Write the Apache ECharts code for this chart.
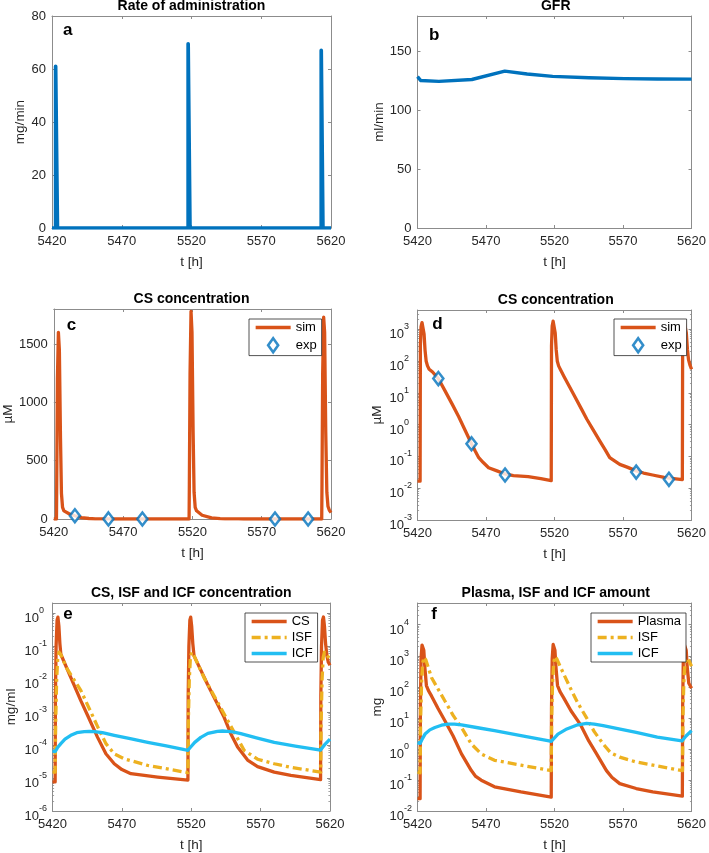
<!DOCTYPE html>
<html><head><meta charset="utf-8">
<script src="https://cdn.jsdelivr.net/npm/echarts@6/dist/echarts.min.js"></script>
<style>html,body{margin:0;padding:0;background:#fff}#c{width:709px;height:853px}</style>
</head><body><div id="c"></div>
<script>
// ---------- data ----------
const xTicks = [5420, 5470, 5520, 5570, 5620];

// (a) rate of administration, mg/min
const rateT = [5420, 5422.6, 5422.6, 5423.9, 5423.9, 5517.6, 5517.6, 5518.9, 5518.9, 5613, 5613, 5614.2, 5614.2, 5620];
const rateV = [0, 0, 61, 61, 0, 0, 69.5, 69.5, 0, 0, 67, 67, 0, 0];

// (b) GFR, ml/min
const gfrT = [5420, 5421, 5422.4, 5435.6, 5459.7, 5483.7, 5500, 5518.6, 5545, 5571, 5595, 5620];
const gfrV = [128.5, 127, 125.2, 124.5, 126.1, 133.2, 130.8, 128.7, 127.6, 126.8, 126.5, 126.4];

// (c,d) CS concentration, µM (simulation)
const simT = [5420, 5421.9, 5422.1, 5422.6, 5423.3, 5424.0, 5424.8, 5425.5, 5426.3, 5427.3, 5428.5, 5431, 5435.2, 5440, 5445.3, 5450, 5455, 5459.4, 5462, 5464.7, 5468, 5471.9, 5478, 5483.9, 5490, 5500.8, 5510, 5517.6,
  5517.8, 5518.3, 5519.0, 5519.7, 5520.5, 5521.2, 5522, 5523, 5524.2, 5527, 5533.8, 5540, 5543.5, 5548, 5553.1, 5557, 5560.3, 5563, 5567.6, 5573, 5579.6, 5585, 5591.6, 5600, 5607, 5613.3,
  5613.5, 5614, 5614.7, 5615.4, 5616.2, 5617, 5617.8, 5618.8, 5620];
const simV = [0.0166, 0.0166, 300, 1200, 1600, 1450, 700, 220, 100, 70, 55, 45, 28, 11.7, 4.4, 1.8, 0.63, 0.25, 0.15, 0.091, 0.064, 0.044, 0.035, 0.028, 0.025, 0.023, 0.020, 0.0172,
  300, 1250, 1780, 1600, 750, 230, 100, 70, 55, 32, 9.1, 2.9, 1.5, 0.71, 0.30, 0.16, 0.091, 0.076, 0.056, 0.046, 0.035, 0.030, 0.026, 0.022, 0.020, 0.0186,
  300, 1250, 1730, 1600, 750, 230, 110, 75, 55];
// experimental points, µM
const expT = [5435.2, 5459.4, 5483.9, 5579.6, 5603.5];
const expV = [28, 0.25, 0.026, 0.032, 0.019];

// (e) concentrations, mg/ml
const eCsT = [5420, 5421.9, 5422.1, 5422.6, 5423.3, 5423.9, 5424.6, 5425.3, 5426, 5433, 5440.4, 5446, 5452.5, 5458.5, 5464.5, 5470, 5476.5, 5495.8, 5517.6,
  5517.8, 5518.3, 5519, 5519.6, 5520.3, 5521.1, 5522, 5531.7, 5543.7, 5548.5, 5553.4, 5560.6, 5567.8, 5579.8, 5591.8, 5613.2,
  5613.4, 5613.9, 5614.6, 5615.3, 5616, 5616.8, 5617.8, 5618.8, 5620];
const eCsV = [7.6e-6, 7.6e-6, 3e-3, 0.1, 0.6, 0.75, 0.4, 0.12, 0.056, 0.0115, 2.2e-3, 6.8e-4, 1.7e-4, 5.4e-5, 2.7e-5, 1.8e-5, 1.35e-5, 1.07e-5, 8.6e-6,
  3e-3, 0.1, 0.6, 0.75, 0.4, 0.12, 0.05, 6.9e-3, 6.9e-4, 2.2e-4, 8.7e-5, 3.5e-5, 2.2e-5, 1.5e-5, 1.2e-5, 8.9e-6,
  3e-3, 0.1, 0.6, 0.75, 0.4, 0.12, 0.05, 0.032, 0.026];
const eIsfT = [5420, 5421.9, 5422.3, 5423, 5423.8, 5424.7, 5426, 5430, 5440.4, 5452.5, 5458.5, 5464.5, 5471.8, 5488.6, 5517.6,
  5517.9, 5518.6, 5519.4, 5520.3, 5521.6, 5529.2, 5543.7, 5558.1, 5567.8, 5579.8, 5591.8, 5613.3,
  5613.6, 5614.3, 5615.1, 5616, 5617.3, 5620];
const eIsfV = [1.5e-5, 1.5e-5, 5e-4, 0.01, 0.045, 0.065, 0.055, 0.022, 4.5e-3, 3.6e-4, 1.1e-4, 5.4e-5, 3.8e-5, 2.4e-5, 1.45e-5,
  5e-4, 0.01, 0.045, 0.065, 0.055, 0.011, 8.7e-4, 6.9e-5, 3.7e-5, 2.7e-5, 2.1e-5, 1.5e-5,
  5e-4, 0.01, 0.045, 0.065, 0.058, 0.04];
const eIcfT = [5420, 5421.9, 5423.5, 5426, 5429, 5433.2, 5437.5, 5442.9, 5446.5, 5450, 5456, 5464.5, 5476, 5488.6, 5502, 5515.1, 5517.6,
  5519.6, 5522.5, 5526.9, 5532, 5538.9, 5542.5, 5546, 5550, 5555.7, 5567, 5579.8, 5595, 5613.2, 5616, 5620];
const eIcfV = [6.6e-5, 6.3e-5, 8.2e-5, 1.1e-4, 1.5e-4, 1.96e-4, 2.35e-4, 2.55e-4, 2.6e-4, 2.55e-4, 2.35e-4, 1.95e-4, 1.55e-4, 1.2e-4, 9.4e-5, 7.2e-5, 6.9e-5,
  8.7e-5, 1.2e-4, 1.7e-4, 2.25e-4, 2.6e-4, 2.65e-4, 2.6e-4, 2.5e-4, 2.2e-4, 1.65e-4, 1.2e-4, 9.3e-5, 7.0e-5, 1.0e-4, 1.5e-4];

// (f) amounts, mg
const fPlT = [5420, 5421.9, 5422.1, 5422.6, 5423.3, 5423.9, 5424.6, 5425.4, 5426.5, 5428, 5430.3, 5435, 5440, 5446, 5452.1, 5459.3, 5462.5, 5466.5, 5476.2, 5495.5, 5517.6,
  5517.8, 5518.3, 5519, 5519.6, 5520.3, 5521.1, 5522.2, 5524, 5526.6, 5532, 5538.7, 5545, 5550.7, 5557.9, 5562, 5567.6, 5579.6, 5591.7, 5613.3,
  5613.5, 5614, 5614.7, 5615.4, 5616.1, 5616.9, 5618, 5620];
const fPlV = [0.025, 0.025, 20, 800, 2200, 2400, 1500, 400, 110, 75, 50, 20, 8.1, 2.6, 0.69, 0.2, 0.13, 0.098, 0.06, 0.041, 0.028,
  20, 800, 2300, 2500, 1500, 400, 110, 70, 45, 17, 6.3, 1.8, 0.69, 0.2, 0.12, 0.076, 0.053, 0.041, 0.030,
  20, 800, 2300, 2600, 1500, 400, 130, 90];
const fIsfT = [5420, 5421.9, 5422.3, 5423, 5423.8, 5424.8, 5426, 5430.3, 5435, 5440, 5446, 5452.1, 5459.3, 5466.5, 5476.2, 5495.5, 5517.6,
  5517.9, 5518.6, 5519.4, 5520.4, 5521.6, 5526, 5531.4, 5537, 5543.4, 5549, 5555.5, 5561, 5567.6, 5579.6, 5591.7, 5613.4,
  5613.7, 5614.4, 5615.2, 5616.6, 5618, 5620];
const fIsfV = [0.18, 0.17, 10, 150, 600, 900, 750, 195, 85, 35, 12, 4.9, 1.44, 0.69, 0.43, 0.30, 0.2,
  10, 150, 600, 950, 800, 300, 94, 30, 10, 3.6, 1.44, 0.75, 0.54, 0.38, 0.30, 0.2,
  10, 150, 600, 850, 700, 460];
const fIcfT = [5420, 5421.9, 5423.5, 5425.5, 5429, 5432.7, 5437.5, 5442.4, 5447, 5452.1, 5464, 5476.2, 5495.5, 5516, 5517.6,
  5519.3, 5522.5, 5529, 5536, 5543.4, 5549, 5555.5, 5567, 5579.6, 5595, 5613, 5616, 5620];
const fIcfV = [1.6, 1.5, 2.1, 3.0, 4.1, 4.9, 5.8, 6.3, 6.3, 5.9, 4.8, 3.9, 2.7, 1.8, 1.75,
  2.1, 3.0, 4.4, 5.8, 6.6, 6.3, 5.6, 4.4, 3.4, 2.4, 1.8, 2.6, 3.9];

// ---------- chart ----------
const zip = (t, v) => t.map((x, i) => [x, v[i]]);
const FONT = 'Liberation Sans, Arial, Helvetica, sans-serif';
const TXT = '#262626';
const BOX = '#8c8c8c';
const C_BLUE = '#0072BD', C_OR = '#D95319', C_YE = '#EDB120', C_LB = '#22BEF2';
const DASHDOT = [9, 4, 3, 4];

const panels = [
  {left: 52, top: 16, w: 279, h: 212, ymin: 0, ymax: 80, yint: 20, log: false, yname: 'mg/min', ygap: 22, title: 'Rate of administration', letter: 'a', lx: 63, ly: 22.3},
  {left: 417.5, top: 16, w: 276.5, h: 212, ymin: 0, ymax: 180, yint: 50, log: false, yname: 'ml/min', ygap: 31, title: 'GFR', letter: 'b', lx: 429, ly: 27.3},
  {left: 52, top: 309, w: 279, h: 210, ymin: 0, ymax: 1800, yint: 500, log: false, yname: 'µM', ygap: 38, title: 'CS concentration', letter: 'c', lx: 66.7, ly: 317.3},
  {left: 417.5, top: 310, w: 276.5, h: 210, ymin: 1e-3, ymax: 4000, log: true, yname: 'µM', ygap: 33, title: 'CS concentration', letter: 'd', lx: 432.3, ly: 316.3},
  {left: 52.5, top: 603, w: 277.5, h: 209, ymin: 1e-6, ymax: 2, log: true, yname: 'mg/ml', ygap: 34, title: 'CS, ISF and ICF concentration', letter: 'e', lx: 63.3, ly: 606.3},
  {left: 417.5, top: 603, w: 276.5, h: 209, ymin: 1e-2, ymax: 5e4, log: true, yname: 'mg', ygap: 33, title: 'Plasma, ISF and ICF amount', letter: 'f', lx: 431.3, ly: 605.6}
];

function logLabel(v) {
  const l = Math.log10(v), e = Math.round(l);
  if (Math.abs(l - e) > 0.01) return '';
  return '{b|10}{s|' + e + '}';
}

const grid = [], xAxis = [], yAxis = [], title = [];
panels.forEach((p, i) => {
  grid.push({left: p.left, top: p.top, width: p.w, height: p.h, containLabel: false});
  const axLine = {show: true, onZero: false, lineStyle: {color: BOX, width: 1}};
  const axTick = {show: true, inside: true, length: 3, lineStyle: {color: BOX, width: 1}};
  const minor = p.log ? {show: true, splitNumber: 9, length: 1.6, lineStyle: {color: BOX, width: 0.8}} : {show: false};
  const xb = {type: 'value', gridIndex: i, min: xTicks[0], max: xTicks[xTicks.length - 1], interval: xTicks[1] - xTicks[0],
    axisLine: axLine, axisTick: axTick, splitLine: {show: false}};
  xAxis.push(Object.assign({}, xb, {position: 'bottom', name: 't [h]', nameLocation: 'middle', nameGap: 27,
    nameTextStyle: {fontSize: 13.5, color: TXT, fontFamily: FONT},
    axisLabel: {color: TXT, fontSize: 13, fontFamily: FONT, margin: 7, formatter: v => String(v)}}));
  xAxis.push(Object.assign({}, xb, {position: 'top', axisLabel: {show: false}}));
  const yb = p.log
    ? {type: 'log', logBase: 10, gridIndex: i, min: p.ymin, max: p.ymax}
    : {type: 'value', gridIndex: i, min: p.ymin, max: p.ymax, interval: p.yint};
  Object.assign(yb, {axisLine: axLine, axisTick: axTick, minorTick: minor, splitLine: {show: false}, minorSplitLine: {show: false}});
  const lab = p.log
    ? {color: TXT, fontSize: 13, fontFamily: FONT, margin: 28, align: 'left', formatter: logLabel, padding: [5, 0, 0, 0],
       rich: {b: {fontSize: 13, fontFamily: FONT, color: TXT, lineHeight: 19, verticalAlign: 'bottom'},
              s: {fontSize: 9, fontFamily: FONT, color: TXT, lineHeight: 7, verticalAlign: 'top'}}}
    : {color: TXT, fontSize: 13, fontFamily: FONT, margin: 6, formatter: v => (v % p.yint === 0 ? String(v) : '')};
  yAxis.push(Object.assign({}, yb, {position: 'left', name: p.yname, nameLocation: 'middle', nameGap: p.ygap,
    nameTextStyle: {fontSize: 13.5, color: TXT, fontFamily: FONT}, axisLabel: lab}));
  yAxis.push(Object.assign({}, yb, {position: 'right', axisLabel: {show: false}}));
  title.push({text: p.title, left: p.left + p.w / 2, top: p.top - 17, textAlign: 'center', padding: 0,
    textStyle: {fontSize: 14, fontWeight: 'bold', color: '#000', fontFamily: FONT}});
  title.push({text: p.letter, left: p.lx, top: p.ly, padding: 0,
    textStyle: {fontSize: 17, fontWeight: 'bold', color: '#000', fontFamily: FONT}});
});

function line(name, i, t, v, color, dash, w) {
  return {type: 'line', name: name, xAxisIndex: 2 * i, yAxisIndex: 2 * i, data: zip(t, v), symbol: 'none',
    lineStyle: {color: color, width: w || 3.3, type: dash || 'solid', cap: 'butt', join: 'round'}, itemStyle: {color: color},
    animation: false, z: 3};
}
const expSeries = i => ({type: 'scatter', name: 'exp', xAxisIndex: 2 * i, yAxisIndex: 2 * i, data: zip(expT, expV),
  symbol: 'diamond', symbolSize: [10, 13], itemStyle: {color: '#fff', borderColor: C_BLUE, borderWidth: 2.6}, z: 4, animation: false});

const series = [
  line('rate', 0, rateT, rateV, C_BLUE, null, 3.7),
  line('gfr', 1, gfrT, gfrV, C_BLUE, null, 3.4),
  line('sim', 2, simT, simV, C_OR), expSeries(2),
  line('sim', 3, simT, simV, C_OR), expSeries(3),
  line('CS', 4, eCsT, eCsV, C_OR), line('ISF', 4, eIsfT, eIsfV, C_YE, DASHDOT), line('ICF', 4, eIcfT, eIcfV, C_LB),
  line('Plasma', 5, fPlT, fPlV, C_OR), line('ISF', 5, fIsfT, fIsfV, C_YE, DASHDOT), line('ICF', 5, fIcfT, fIcfV, C_LB)
];

const legLine = (n, color, dash) => ({name: n, itemStyle: {opacity: 0}, lineStyle: {color: color, width: 3.3, type: dash || 'solid', cap: 'butt'}});
const diamondItem = {name: 'exp', icon: 'path://M5,0L10,7L5,14L0,7Z', itemStyle: {color: '#fff', borderColor: C_BLUE, borderWidth: 2.6}};
const legBase = {orient: 'vertical', itemWidth: 35, itemHeight: 14, itemGap: 3, padding: [2, 5, 2, 5],
  borderColor: '#262626', borderWidth: 0.8, backgroundColor: '#fff', selectedMode: false, symbolKeepAspect: true,
  textStyle: {fontSize: 13, color: '#000', fontFamily: FONT}};
const legend = [
  Object.assign({}, legBase, {data: [legLine('sim', C_OR), diamondItem], left: 249, top: 319}),
  Object.assign({}, legBase, {data: [legLine('sim', C_OR), diamondItem], left: 614, top: 319}),
  Object.assign({}, legBase, {data: [legLine('CS', C_OR), legLine('ISF', C_YE, DASHDOT), legLine('ICF', C_LB)], left: 245, top: 613}),
  Object.assign({}, legBase, {data: [legLine('Plasma', C_OR), legLine('ISF', C_YE, DASHDOT), legLine('ICF', C_LB)], left: 591, top: 613})
];

const chart = echarts.init(document.getElementById('c'), null, {renderer: 'canvas'});
chart.setOption({animation: false, backgroundColor: '#fff', title, grid, xAxis, yAxis, legend, series});
</script></body></html>
